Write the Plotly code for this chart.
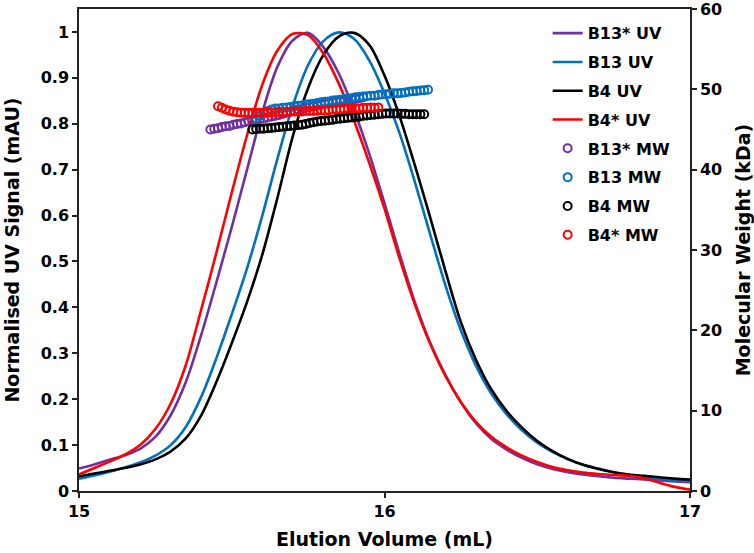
import plotly.graph_objects as go

# ---------------- data ----------------
VOLUME = [15.00, 15.05, 15.10, 15.15, 15.20, 15.25, 15.30, 15.35, 15.40, 15.45,
          15.50, 15.55, 15.60, 15.65, 15.70, 15.75, 15.80, 15.85, 15.90, 15.95,
          16.00, 16.05, 16.10, 16.15, 16.20, 16.25, 16.30, 16.35, 16.40, 16.45,
          16.50, 16.55, 16.60, 16.65, 16.70, 16.75, 16.80, 16.85, 16.90, 16.95,
          17.00]

UV_B13_STAR = [0.049, 0.058, 0.068, 0.078, 0.092, 0.118, 0.165, 0.238, 0.340, 0.455,
               0.575, 0.700, 0.825, 0.925, 0.982, 0.998, 0.967, 0.910, 0.830, 0.735,
               0.627, 0.515, 0.410, 0.322, 0.252, 0.193, 0.147, 0.113, 0.090, 0.072,
               0.058, 0.048, 0.041, 0.036, 0.032, 0.029, 0.027, 0.025, 0.023, 0.021,
               0.019]
UV_B13 = [0.027, 0.034, 0.042, 0.051, 0.062, 0.077, 0.100, 0.140, 0.205, 0.290,
          0.385, 0.485, 0.600, 0.725, 0.840, 0.928, 0.980, 0.999, 0.985, 0.938,
          0.866, 0.778, 0.672, 0.558, 0.447, 0.350, 0.272, 0.212, 0.167, 0.132,
          0.105, 0.085, 0.069, 0.057, 0.049, 0.041, 0.035, 0.031, 0.027, 0.024,
          0.021]
UV_B4 = [0.032, 0.038, 0.044, 0.050, 0.058, 0.069, 0.086, 0.115, 0.165, 0.238,
         0.322, 0.412, 0.515, 0.640, 0.773, 0.878, 0.950, 0.990, 0.998, 0.972,
         0.905, 0.815, 0.708, 0.595, 0.478, 0.368, 0.285, 0.221, 0.174, 0.138,
         0.109, 0.087, 0.070, 0.057, 0.048, 0.041, 0.036, 0.033, 0.030, 0.027,
         0.025]
UV_B4_STAR = [0.036, 0.050, 0.064, 0.079, 0.100, 0.135, 0.190, 0.275, 0.395, 0.520,
              0.650, 0.775, 0.885, 0.960, 0.996, 0.993, 0.953, 0.888, 0.807, 0.715,
              0.615, 0.505, 0.405, 0.320, 0.250, 0.194, 0.150, 0.118, 0.095, 0.077,
              0.063, 0.052, 0.045, 0.040, 0.037, 0.035, 0.033, 0.028, 0.018, 0.009,
              0.003]

MW_VOLUME = [15.4300, 15.4425, 15.4550, 15.4675, 15.4800, 15.4925, 15.5050, 15.5175,
             15.5300, 15.5425, 15.5550, 15.5675, 15.5800, 15.5925, 15.6050, 15.6175,
             15.6300, 15.6425, 15.6550, 15.6675, 15.6800, 15.6925, 15.7050, 15.7175,
             15.7300, 15.7425, 15.7550, 15.7675, 15.7800, 15.7925, 15.8050, 15.8175,
             15.8300, 15.8425, 15.8550, 15.8675, 15.8800, 15.8925, 15.9050, 15.9175,
             15.9300, 15.9425, 15.9550, 15.9675, 15.9800, 15.9925, 16.0050, 16.0175,
             16.0300, 16.0425, 16.0550, 16.0675, 16.0800, 16.0925, 16.1050, 16.1175,
             16.1300, 16.1425]

N = None
MW_B13_STAR = [45.0, 45.1, 45.15, 45.3, 45.4, 45.45, 45.6, 45.7, 45.75, 45.9,
               46.0, 46.05, 46.2, 46.3, 46.35, 46.5, 46.6, 46.7, 46.8, 46.95,
               47.1, 47.2, 47.35, 47.5, 47.55, 47.7, 47.8, 47.85, 48.0, 48.1,
               48.2, 48.25, 48.35, 48.45, 48.5, 48.55, 48.65, 48.75, 48.8, 48.9,
               49.0, N, N, N, N, N, N, N, N, N, N, N, N, N, N, N, N, N]
MW_B13 = [N, N, N, N, N, N, N, N, N, N, N, N,
          46.4, 46.7, 47.0, 47.3, 47.5, 47.6, 47.6, 47.7, 47.75, 47.8,
          47.9, 47.95, 48.0, 48.1, 48.15, 48.2, 48.3, 48.4, 48.45, 48.5,
          48.6, 48.65, 48.7, 48.8, 48.85, 48.9, 49.0, 49.05, 49.1, 49.15,
          49.2, 49.2, 49.3, 49.35, 49.4, 49.45, 49.5, 49.5, 49.55, 49.6,
          49.7, 49.75, 49.8, 49.85, 49.9, 49.95]
MW_B4 = [N, N, N, N, N, N, N, N, N, N, N,
         45.0, 45.05, 45.1, 45.1, 45.15, 45.2, 45.25, 45.3, 45.35, 45.4,
         45.45, 45.5, 45.55, 45.6, 45.7, 45.8, 45.9, 46.0, 46.05, 46.1,
         46.15, 46.2, 46.3, 46.35, 46.4, 46.45, 46.5, 46.55, 46.6, 46.7,
         46.75, 46.8, 46.85, 46.9, 46.95, 47.0, 47.0, 47.0, 47.0, 46.95,
         46.95, 46.9, 46.9, 46.9, 46.9, 46.9, N]
MW_B4_STAR = [N, N,
              47.9, 47.7, 47.5, 47.35, 47.2, 47.15, 47.1, 47.1, 47.05, 47.1,
              47.05, 47.1, 47.1, 47.15, 47.1, 47.15, 47.2, 47.15, 47.2, 47.2,
              47.25, 47.2, 47.25, 47.3, 47.3, 47.3, 47.35, 47.4, 47.35, 47.4,
              47.45, 47.5, 47.5, 47.55, 47.6, 47.6, 47.65, 47.6, 47.7, 47.7,
              47.75, 47.7, 47.75, N, N, N, N, N, N, N, N, N, N, N, N, N]

NAMES_UV = ["B13* UV", "B13 UV", "B4 UV", "B4* UV"]
NAMES_MW = ["B13* MW", "B13 MW", "B4 MW", "B4* MW"]
COLORS = ["#7030A0", "#0070C0", "#000000", "#FF0000"]

X_TICKS = [15, 16, 17]
Y_TICKS = [0, 0.1, 0.2, 0.3, 0.4, 0.5, 0.6, 0.7, 0.8, 0.9, 1]
Y_TICK_TEXT = ["0", "0.1", "0.2", "0.3", "0.4", "0.5", "0.6", "0.7", "0.8", "0.9", "1"]
Y2_TICKS = [0, 10, 20, 30, 40, 50, 60]

# ---------------- figure ----------------
fig = go.Figure()
for name, ys, c in zip(NAMES_UV, [UV_B13_STAR, UV_B13, UV_B4, UV_B4_STAR], COLORS):
    fig.add_trace(go.Scatter(x=VOLUME, y=ys, mode="lines", name=name,
                             line=dict(color=c, width=2.6, shape="spline", smoothing=0.9),
                             legendgroup=name))
for name, ys, c in zip(NAMES_MW, [MW_B13_STAR, MW_B13, MW_B4, MW_B4_STAR], COLORS):
    fig.add_trace(go.Scatter(x=MW_VOLUME, y=ys, mode="markers", name=name, yaxis="y2",
                             marker=dict(symbol="circle-open", size=8, color=c,
                                         line=dict(width=2, color=c)),
                             legendgroup=name))

axis_line = dict(showline=True, linecolor="#222222", linewidth=1.5, ticks="outside",
                 ticklen=5, tickwidth=1.5, tickcolor="#222222", showgrid=False,
                 zeroline=False, automargin=False, ticklabeloverflow="allow")

FONT = "DejaVu Sans, Arial, sans-serif"

fig.update_layout(
    width=754, height=553,
    margin=dict(l=79, r=64, t=9, b=62, autoexpand=False),
    paper_bgcolor="white", plot_bgcolor="white",
    font=dict(family=FONT, size=16, color="black", weight="bold"),
    xaxis=dict(range=[15, 17], tickvals=X_TICKS, ticktext=[str(t) for t in X_TICKS],
               mirror=True, title=dict(text="Elution Volume (mL)", standoff=13),
               **axis_line),
    yaxis=dict(range=[0, 1.05], tickvals=Y_TICKS, ticktext=Y_TICK_TEXT,
               title=dict(text="Normalised UV Signal (mAU)", standoff=16), **axis_line),
    yaxis2=dict(range=[0, 60.001], tickvals=Y2_TICKS, ticktext=[str(t) for t in Y2_TICKS],
                overlaying="y", side="right",
                title=dict(text="Molecular Weight (kDa)", standoff=20), **axis_line),
    legend=dict(x=0.767, y=0.985, xanchor="left", yanchor="top",
                bgcolor="rgba(0,0,0,0)", traceorder="grouped", tracegroupgap=5,
                font=dict(family=FONT, size=16, weight="bold")),
    showlegend=True,
)

fig.write_html("out.html", config={"displayModeBar": False},
               post_script="document.body.style.margin='0';document.body.style.overflow='hidden';")
